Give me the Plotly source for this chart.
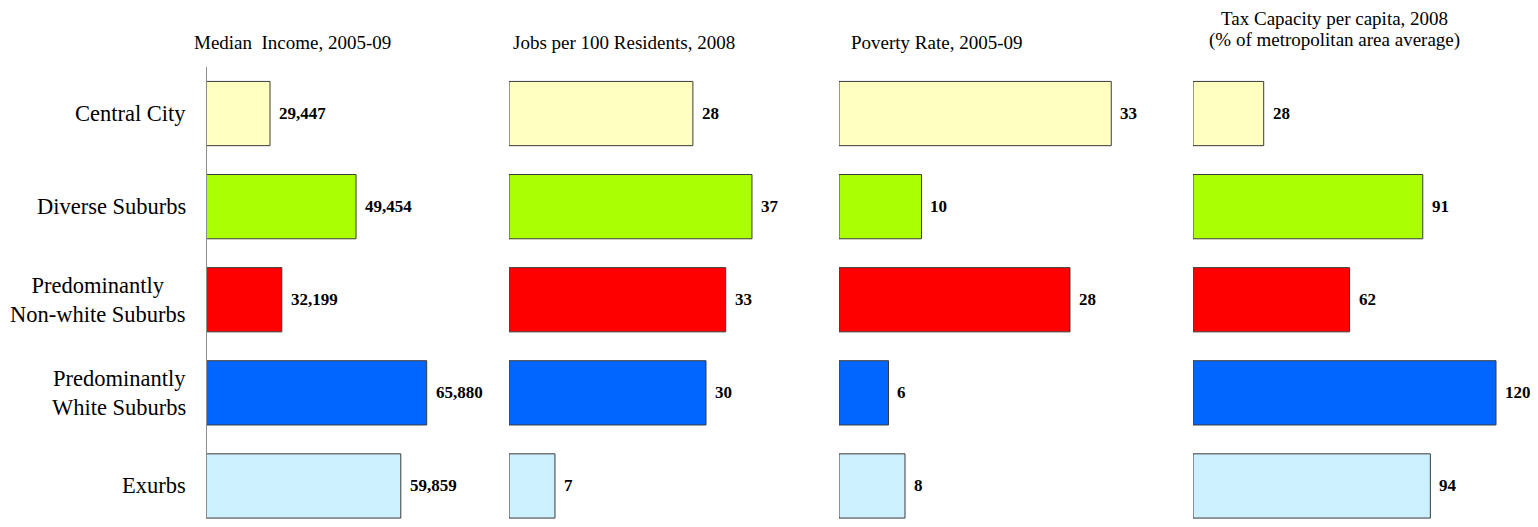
import plotly.graph_objects as go

# ---- data ----
categories = ["Central City", "Diverse Suburbs", "Predominantly Non-white Suburbs",
              "Predominantly White Suburbs", "Exurbs"]
category_labels = ["Central City", "Diverse Suburbs", "Predominantly<br>Non-white Suburbs",
                   "Predominantly<br>White Suburbs", "Exurbs"]
median_income = [29447, 49454, 32199, 65880, 59859]
jobs_per_100 = [28, 37, 33, 30, 7]
poverty_rate = [33, 10, 28, 6, 8]
tax_capacity = [28, 91, 62, 120, 94]
panel_titles = [["Median  Income, 2005-09"], ["Jobs per 100 Residents, 2008"],
                ["Poverty Rate, 2005-09"],
                ["Tax Capacity per capita, 2008", "(% of metropolitan area average)"]]
bar_colors = ["#FFFFC0", "#AAFF00", "#FF0000", "#0066FF", "#CCF0FF"]

# ---- layout constants (screen pixels; page body adds an 8px offset) ----
OFF = 8
W, H = 1538 - OFF, 527 - 2 * OFF
FONT = "Liberation Serif, Times New Roman, serif"
panels = [
    # values, x0px, x1px, range start, px per unit, title center px, format
    (median_income, 207, 480, 14800, 0.004301, 292, "{:,}"),
    (jobs_per_100, 509, 800, 0, 6.567, 624, "{}"),
    (poverty_rate, 839, 1150, 0, 8.25, 937, "{}"),
    (tax_capacity, 1193, 1500, 0, 2.525, 1334, "{}"),
]
plot_top_px = 67
row_px = 93.1
y_top_frac = 1 - (plot_top_px - OFF) / H
y_range_bottom = (OFF + H - plot_top_px) / row_px - 0.5


def px_x(p):
    return (p - OFF) / W


def px_y(p):
    return 1 - (p - OFF) / H


fig = go.Figure()
annotations = []
for i, (vals, x0, x1, r0, ppu, tcx, fmt) in enumerate(panels):
    n = i + 1
    xa = "x" if n == 1 else f"x{n}"
    ya = "y" if n == 1 else f"y{n}"
    fig.add_trace(go.Bar(
        x=vals, y=categories, orientation="h",
        marker=dict(color=bar_colors, line=dict(color="#3a3a3a", width=1)),
        xaxis=xa, yaxis=ya, showlegend=False, hoverinfo="x+y",
    ))
    r1 = r0 + (x1 - x0) / ppu
    xkey = "xaxis" if n == 1 else f"xaxis{n}"
    ykey = "yaxis" if n == 1 else f"yaxis{n}"
    fig.update_layout(**{
        xkey: dict(domain=[px_x(x0), px_x(x1)], range=[r0, r1], visible=False,
                   anchor=ya, fixedrange=True),
        ykey: dict(domain=[0, y_top_frac], type="category",
                   categoryorder="array", categoryarray=categories,
                   range=[y_range_bottom, -0.5], anchor=xa,
                   showticklabels=False, showgrid=False, zeroline=False,
                   ticks="", showline=(n == 1), linecolor="#8c8c8c", linewidth=1,
                   fixedrange=True),
    })
    for c, v in zip(categories, vals):
        annotations.append(dict(
            x=v, y=c, xref=xa, yref=ya, xanchor="left", yanchor="middle",
            xshift=7, showarrow=False, text="<b>" + fmt.format(v) + "</b>",
            font=dict(family=FONT, size=17, color="black"),
        ))
    lines = panel_titles[i]
    ys = [42] if len(lines) == 1 else [18, 40]
    for line, yy in zip(lines, ys):
        annotations.append(dict(
            x=px_x(tcx), y=px_y(yy), xref="paper", yref="paper",
            xanchor="center", yanchor="middle", showarrow=False,
            text=line, align="center",
            font=dict(family=FONT, size=19, color="black"),
        ))

for c, lab in zip(categories, category_labels):
    annotations.append(dict(
        x=px_x(188), y=c, xref="paper", yref="y", xanchor="right", yanchor="middle",
        showarrow=False, text=lab, align="center",
        font=dict(family=FONT, size=22.5, color="black"),
    ))

fig.update_layout(
    width=W, height=H, margin=dict(l=0, r=0, t=0, b=0),
    paper_bgcolor="white", plot_bgcolor="white",
    bargap=0.31, annotations=annotations,
    font=dict(family=FONT, color="black"),
)

fig.write_html("out.html")
